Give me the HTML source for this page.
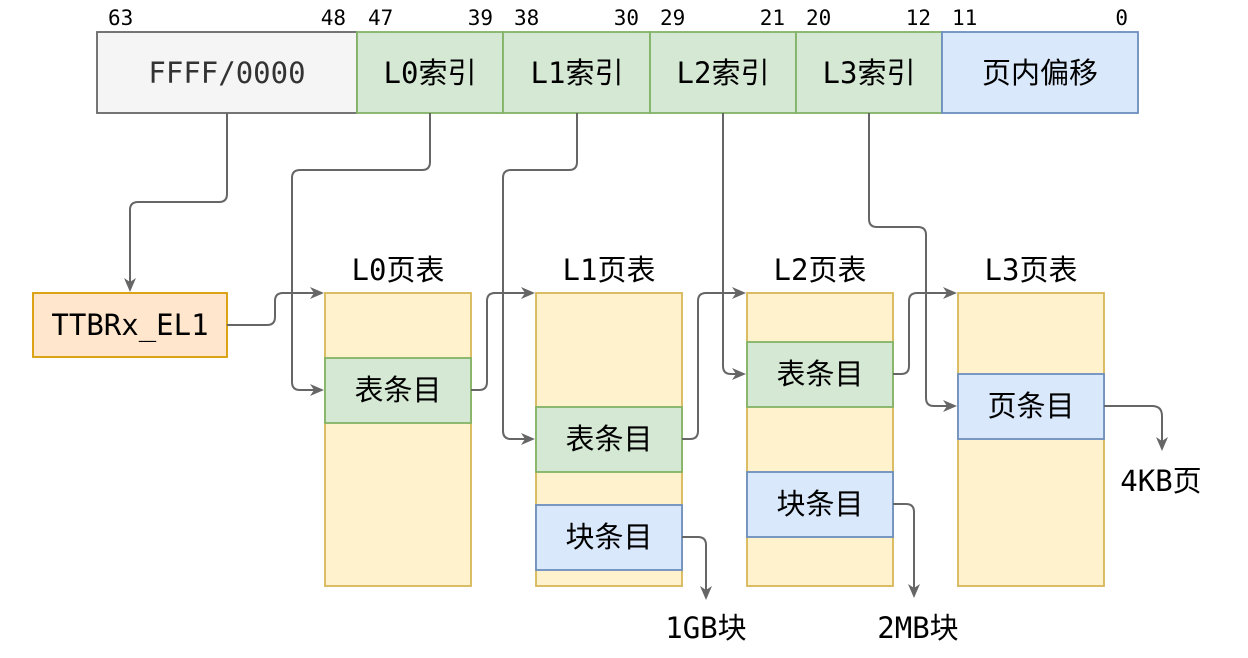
<!DOCTYPE html>
<html><head><meta charset="utf-8"><style>
html,body{margin:0;padding:0;background:#fff;}
svg{display:block;}
text{font-family:"DejaVu Sans Mono","Liberation Mono","Noto Sans CJK SC",monospace;fill:#000;}
.s{font-size:21px;}
.b{font-size:29px;}
</style></head><body>
<svg width="1248" height="658" viewBox="0 0 1248 658" xmlns="http://www.w3.org/2000/svg">
<g class="s">
<text x="108" y="25">63</text><text x="346" y="25" text-anchor="end">48</text>
<text x="368" y="25">47</text><text x="493" y="25" text-anchor="end">39</text>
<text x="514" y="25">38</text><text x="639" y="25" text-anchor="end">30</text>
<text x="660" y="25">29</text><text x="785" y="25" text-anchor="end">21</text>
<text x="806" y="25">20</text><text x="931" y="25" text-anchor="end">12</text>
<text x="952" y="25">11</text><text x="1128" y="25" text-anchor="end">0</text>
</g>
<g stroke-width="1.8">
<rect x="97" y="32" width="260" height="81" fill="#f5f5f5" stroke="#666"/>
<rect x="357" y="32" width="146" height="81" fill="#d5e8d4" stroke="#82b366"/>
<rect x="503" y="32" width="147" height="81" fill="#d5e8d4" stroke="#82b366"/>
<rect x="650" y="32" width="146" height="81" fill="#d5e8d4" stroke="#82b366"/>
<rect x="796" y="32" width="146" height="81" fill="#d5e8d4" stroke="#82b366"/>
<rect x="942" y="32" width="196" height="81" fill="#dae8fc" stroke="#6c8ebf"/>
<rect x="33" y="293" width="194" height="64" fill="#ffe6cc" stroke="#d79b00"/>
<rect x="325" y="293" width="146" height="293" fill="#fff2cc" stroke="#d6b656"/>
<rect x="536" y="293" width="146" height="293" fill="#fff2cc" stroke="#d6b656"/>
<rect x="747" y="293" width="146" height="293" fill="#fff2cc" stroke="#d6b656"/>
<rect x="958" y="293" width="146" height="293" fill="#fff2cc" stroke="#d6b656"/>
<rect x="325" y="358" width="146" height="65" fill="#d5e8d4" stroke="#82b366"/>
<rect x="536" y="407" width="146" height="65" fill="#d5e8d4" stroke="#82b366"/>
<rect x="536" y="505" width="146" height="65" fill="#dae8fc" stroke="#6c8ebf"/>
<rect x="747" y="342" width="146" height="65" fill="#d5e8d4" stroke="#82b366"/>
<rect x="747" y="472" width="146" height="65" fill="#dae8fc" stroke="#6c8ebf"/>
<rect x="958" y="374" width="146" height="65" fill="#dae8fc" stroke="#6c8ebf"/>
</g>
<g class="b" text-anchor="middle">
<text x="227" y="83" style="fill:#333">FFFF/0000</text>
<text x="430" y="83">L0索引</text>
<text x="577" y="83">L1索引</text>
<text x="723" y="83">L2索引</text>
<text x="869" y="83">L3索引</text>
<text x="1040" y="83">页内偏移</text>
<text x="130" y="335">TTBRx_EL1</text>
<text x="398" y="280">L0页表</text>
<text x="609" y="280">L1页表</text>
<text x="820" y="280">L2页表</text>
<text x="1031" y="280">L3页表</text>
<text x="398" y="400">表条目</text>
<text x="609" y="449">表条目</text>
<text x="609" y="547">块条目</text>
<text x="820" y="384">表条目</text>
<text x="820" y="514">块条目</text>
<text x="1031" y="416">页条目</text>
<text x="1161" y="491">4KB页</text>
<text x="706" y="638">1GB块</text>
<text x="918" y="638">2MB块</text>
</g>
<g fill="none" stroke="#666" stroke-width="2">
<path d="M227,113 V194 Q227,202 219,202 H138 Q130,202 130,210 V282"/>
<path d="M227,325 H267 Q275,325 275,317 V301 Q275,293 283,293 H314"/>
<path d="M430,113 V162 Q430,170 422,170 H300 Q292,170 292,178 V382 Q292,390 300,390 H314"/>
<path d="M471,390 H479 Q487,390 487,382 V301 Q487,293 495,293 H525"/>
<path d="M577,113 V162 Q577,170 569,170 H511 Q503,170 503,178 V431 Q503,439 511,439 H525"/>
<path d="M682,439 H690 Q698,439 698,431 V301 Q698,293 706,293 H736"/>
<path d="M723,113 V366 Q723,374 731,374 H736"/>
<path d="M893,374 H901 Q909,374 909,366 V301 Q909,293 917,293 H947"/>
<path d="M869,113 V219 Q869,227 877,227 H918 Q926,227 926,235 V398 Q926,406 934,406 H947"/>
<path d="M1104,406 H1152 Q1162,406 1162,416 V441"/>
<path d="M682,537 H698 Q706,537 706,545 V590"/>
<path d="M893,504 H906 Q914,504 914,512 V588"/>
</g>
<g fill="#666">
<path d="M130,292 l-6,-14 l6,4 l6,-4 Z"/>
<path d="M324,293 l-14,-6 l4,6 l-4,6 Z"/>
<path d="M324,390 l-14,-6 l4,6 l-4,6 Z"/>
<path d="M535,293 l-14,-6 l4,6 l-4,6 Z"/>
<path d="M535,439 l-14,-6 l4,6 l-4,6 Z"/>
<path d="M746,293 l-14,-6 l4,6 l-4,6 Z"/>
<path d="M746,374 l-14,-6 l4,6 l-4,6 Z"/>
<path d="M957,293 l-14,-6 l4,6 l-4,6 Z"/>
<path d="M957,406 l-14,-6 l4,6 l-4,6 Z"/>
<path d="M1162,451 l-6,-14 l6,4 l6,-4 Z"/>
<path d="M706,600 l-6,-14 l6,4 l6,-4 Z"/>
<path d="M914,598 l-6,-14 l6,4 l6,-4 Z"/>
</g>
</svg>
</body></html>
